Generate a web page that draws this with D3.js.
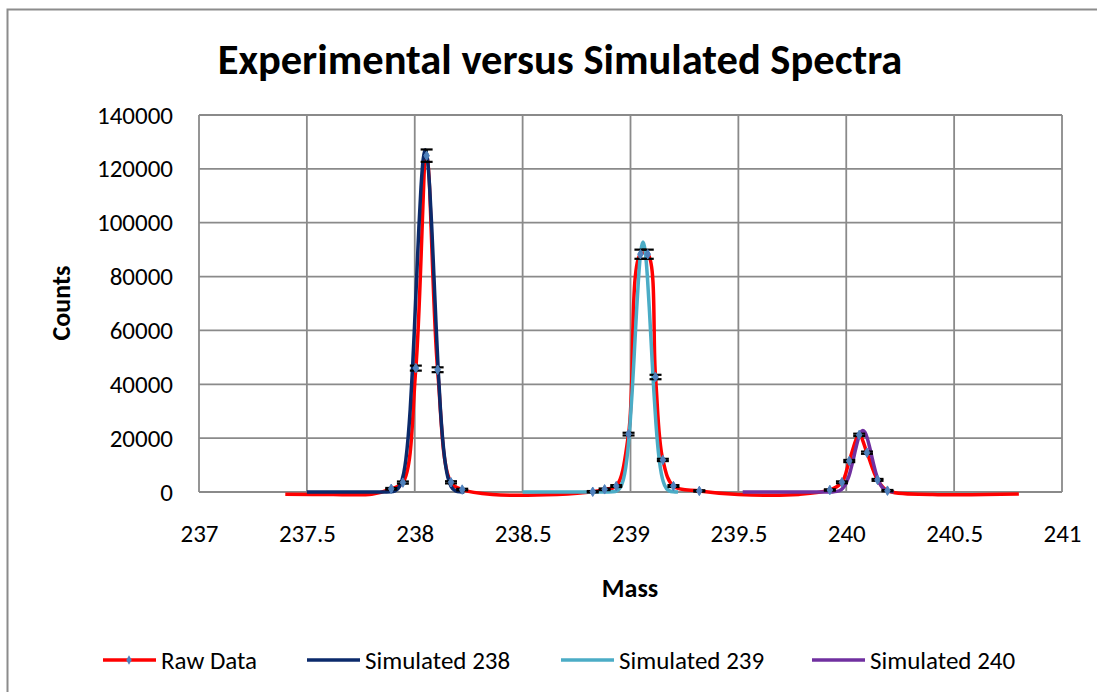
<!DOCTYPE html>
<head>
<meta charset="utf-8">
<style>
body { margin: 0; background: #fff; }
svg { display: block; }
.tick text { font-family: Carlito, Lato, sans-serif; }
.ttl { font-family: Carlito, Lato, sans-serif; font-weight: bold; }
.leg { font-family: Carlito, Lato, sans-serif; font-size: 25px; }
</style>
</head>
<body>
<svg width="1097" height="692"></svg>
<script src="https://d3js.org/d3.v7.min.js"></script>
<script>
// raw spectrum (error null = plain curve point, no marker)
var rawMass   = [237.40, 237.62, 237.80, 237.891, 237.945, 238.005, 238.055, 238.106, 238.168, 238.220, 238.36, 238.66,
                 238.825, 238.880, 238.934, 238.991, 239.046, 239.080, 239.116, 239.150, 239.199, 239.319, 239.50, 239.78,
                 239.924, 239.980, 240.014, 240.060, 240.096, 240.145, 240.191, 240.40, 240.80];
var rawCounts = [-850, -900, -800, 1200, 3500, 46000, 124900, 45400, 3600, 900, -900, -900,
                 100, 1000, 2200, 21500, 88300, 88300, 42700, 11900, 2200, 400, -900, -900,
                 750, 3600, 11500, 21200, 14600, 4500, 500, -900, -750];
var rawError  = [null, null, null, 300, 400, 930, 2300, 900, 400, 300, null, null,
                 250, 300, 350, 500, 1700, 1700, 820, 420, 350, 250, null, null,
                 250, 350, 400, 450, 420, 350, 250, null, null];

var sim238Mass = [237.50, 237.85, 237.889, 237.909, 237.929, 237.949, 237.959, 237.969, 237.979, 237.989, 237.999, 238.009,
                  238.019, 238.029, 238.039, 238.049, 238.059, 238.069, 238.079, 238.089, 238.099, 238.109, 238.119, 238.129,
                  238.139, 238.149, 238.169, 238.189, 238.209, 238.23];
var sim238 = [0, 0, 78, 440, 1980, 7060, 12200, 20000, 30800, 44900, 61700, 80000,
              98000, 113200, 123500, 127100, 123500, 113200, 98000, 80000, 61700, 44900, 30800, 20000,
              12200, 7060, 1980, 440, 78, 0];

var sim239Mass = [238.50, 238.88, 238.898, 238.918, 238.938, 238.958, 238.968, 238.978, 238.988, 238.998, 239.008, 239.018,
                  239.028, 239.038, 239.048, 239.058, 239.068, 239.078, 239.088, 239.098, 239.108, 239.118, 239.128, 239.138,
                  239.148, 239.158, 239.178, 239.198, 239.22];
var sim239 = [0, 0, 10, 78, 510, 2500, 4970, 9200, 15800, 25300, 37600, 52100,
              67000, 80300, 89500, 92800, 89500, 80300, 67000, 52100, 37600, 25300, 15800, 9200,
              4970, 2500, 510, 78, 0];

var sim240Mass = [239.52, 239.90, 239.937, 239.957, 239.977, 239.987, 239.997, 240.007, 240.017, 240.027, 240.037, 240.047,
                  240.057, 240.067, 240.077, 240.087, 240.097, 240.107, 240.117, 240.127, 240.137, 240.147, 240.157, 240.167,
                  240.177, 240.197, 240.22];
var sim240 = [0, 0, 43, 226, 920, 1700, 2930, 4740, 7190, 10230, 13650, 17090,
              20060, 22100, 22800, 22100, 20060, 17090, 13650, 10230, 7190, 4740, 2930, 1700,
              920, 226, 30];

var xTicks = [237, 237.5, 238, 238.5, 239, 239.5, 240, 240.5, 241];
var yTicks = [0, 20000, 40000, 60000, 80000, 100000, 120000, 140000];
var legendNames = ["Raw Data", "Simulated 238", "Simulated 239", "Simulated 240"];
var colors = ["#ff0000", "#0b2a6b", "#4bacc6", "#7030a0"];

var svg = d3.select("svg");
var plotL = 199, plotR = 1062, plotT = 115, plotB = 492;

// outer chart frame
svg.append("rect").attr("x", 7.5).attr("y", 9.5).attr("width", 1100).attr("height", 700)
    .attr("fill", "#fff").attr("stroke", "#8c8c8c").attr("stroke-width", 2);

var x = d3.scaleLinear().domain([237, 241]).range([plotL, plotR]);
var y = d3.scaleLinear().domain([0, 140000]).range([plotB, plotT]);

// gridlines
svg.append("g").selectAll("line").data(xTicks).enter().append("line")
    .attr("x1", d => x(d)).attr("x2", d => x(d)).attr("y1", plotT).attr("y2", plotB)
    .attr("stroke", "#8a8a8a").attr("stroke-width", 1.8);
svg.append("g").selectAll("line").data(yTicks).enter().append("line")
    .attr("x1", plotL).attr("x2", plotR).attr("y1", d => y(d)).attr("y2", d => y(d))
    .attr("stroke", "#8a8a8a").attr("stroke-width", 1.8);

var yAxis = svg.append("g").attr("transform", "translate(" + plotL + ",0)")
    .call(d3.axisLeft(y).tickValues(yTicks).tickSize(0).tickPadding(26).tickFormat(d3.format("d")));
var xAxis = svg.append("g").attr("transform", "translate(0," + plotB + ")")
    .call(d3.axisBottom(x).tickValues(xTicks).tickSize(0).tickPadding(32).tickFormat(d => String(d)));
[yAxis, xAxis].forEach(function(a) {
  a.select(".domain").remove();
  a.selectAll("text").attr("font-size", 25).attr("fill", "#000");
});

// curves
var rawLine = d3.line().x((d, i) => x(rawMass[i])).y(d => y(d)).curve(d3.curveCatmullRom.alpha(0.5));
svg.append("path").attr("d", rawLine(rawCounts))
    .attr("fill", "none").attr("stroke", colors[0]).attr("stroke-width", 3.5);

var sims = [[sim238Mass, sim238], [sim239Mass, sim239], [sim240Mass, sim240]];
sims.forEach(function(s, k) {
  var line = d3.line().x((d, i) => x(s[0][i])).y(d => y(d)).curve(d3.curveMonotoneX);
  svg.append("path").attr("d", line(s[1]))
      .attr("fill", "none").attr("stroke", colors[k + 1]).attr("stroke-width", 3.5);
});

// error bars and markers on raw data
var pts = rawCounts.map((c, i) => ({m: rawMass[i], c: c, e: rawError[i]})).filter(p => p.e !== null);
var eb = svg.append("g").attr("stroke", "#000").attr("stroke-width", 2.2);
pts.forEach(function(p) {
  var y1 = y(p.c + p.e), y2 = y(p.c - p.e), cx = x(p.m);
  eb.append("line").attr("x1", cx).attr("x2", cx).attr("y1", y1).attr("y2", y2);
  eb.append("line").attr("x1", cx - 6).attr("x2", cx + 6).attr("y1", y1).attr("y2", y1);
  eb.append("line").attr("x1", cx - 6).attr("x2", cx + 6).attr("y1", y2).attr("y2", y2);
});
var diamond = d3.symbol().type(d3.symbolDiamond).size(26);
svg.append("g").selectAll("path").data(pts).enter().append("path")
    .attr("d", diamond).attr("transform", d => "translate(" + x(d.m) + "," + y(d.c) + ")")
    .attr("fill", "#4f81bd").attr("stroke", "#4f81bd").attr("stroke-width", 1);

// titles
svg.append("text").attr("class", "ttl").attr("x", 560).attr("y", 74).attr("text-anchor", "middle")
    .attr("font-size", 42.5).text("Experimental versus Simulated Spectra");
svg.append("text").attr("class", "ttl").attr("x", 630).attr("y", 597).attr("text-anchor", "middle")
    .attr("font-size", 26).text("Mass");
svg.append("text").attr("class", "ttl").attr("transform", "translate(70,303) rotate(-90)")
    .attr("text-anchor", "middle").attr("font-size", 26).text("Counts");

// legend
var legX = [103, 307, 561, 812];
legendNames.forEach(function(n, i) {
  var g = svg.append("g").attr("transform", "translate(" + legX[i] + ",660)");
  g.append("line").attr("x1", 0).attr("x2", 53).attr("stroke", colors[i]).attr("stroke-width", 3.5);
  if (i === 0) g.append("path").attr("d", diamond).attr("transform", "translate(26,0)").attr("fill", "#4f81bd");
  g.append("text").attr("class", "leg").attr("x", 58).attr("y", 9).text(n);
});
</script>
</body>
